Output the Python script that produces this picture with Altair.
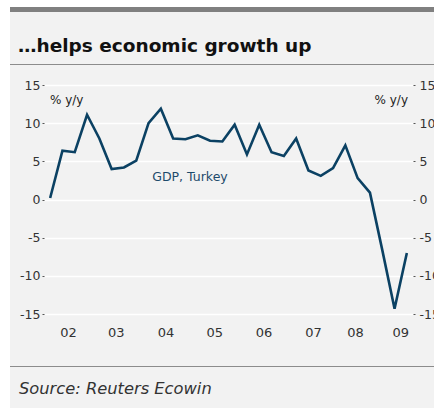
import altair as alt
import pandas as pd

# Quarterly GDP growth, Turkey, % y/y, 2002Q1 - 2009Q2
years = [2002]*4 + [2003]*4 + [2004]*4 + [2005]*4 + [2006]*4 + [2007]*4 + [2008]*4 + [2009]*2
quarters = [1, 2, 3, 4] * 7 + [1, 2]
gdp = [0.2, 6.4, 6.2, 11.1,
       8.0, 4.0, 4.2, 5.1,
       10.0, 11.9, 8.0, 7.9,
       8.4, 7.7, 7.6, 9.8,
       5.9, 9.8, 6.2, 5.7,
       8.0, 3.8, 3.1, 4.1,
       7.1, 2.8, 0.9, -6.6,
       -14.3, -7.0]

year_labels = ["02", "03", "04", "05", "06", "07", "08", "09"]
year_label_at = [2002.50, 2003.47, 2004.48, 2005.47, 2006.47, 2007.48, 2008.33, 2009.25]
year_ticks = [2002, 2003, 2004, 2005, 2006, 2007, 2008, 2009]
y_ticks = [-15, -10, -5, 0, 5, 10, 15]

df = pd.DataFrame({
    "t": [y + (q - 1) * 0.25 + 0.125 for y, q in zip(years, quarters)],
    "gdp": gdp,
})
lab_df = pd.DataFrame({"t": year_label_at, "lab": year_labels})

W, H = 369, 229
LINE = "#0b4163"
BG = "#f2f2f2"
TXT = "#333333"
HYPHEN = "replace(datum.label, '\u2212', '-')"

xscale = alt.Scale(domain=[2002, 2009.5], nice=False, zero=False)
yscale = alt.Scale(domain=[-15, 15], nice=False)

base = alt.Chart(df)

left_axis = base.mark_line(opacity=0).encode(
    x=alt.X("t:Q", scale=xscale,
            axis=alt.Axis(values=year_ticks, labels=False, title=None, domain=False,
                          grid=False, tickSize=3, tickColor="#777777", tickWidth=1, offset=3)),
    y=alt.Y("gdp:Q", scale=yscale,
            axis=alt.Axis(values=y_ticks, title=None, domain=False, grid=True,
                          gridColor="white", gridWidth=1.5, tickSize=2, tickColor="#555555",
                          labelPadding=2, labelFont="DejaVu Sans", labelFontSize=12.5,
                          labelColor=TXT, labelExpr=HYPHEN, orient="left")),
)
right_axis = base.mark_line(opacity=0).encode(
    x=alt.X("t:Q", scale=xscale, axis=None),
    y=alt.Y("gdp:Q", scale=yscale,
            axis=alt.Axis(values=y_ticks, title=None, domain=False, grid=False,
                          tickSize=2, tickColor="#555555", labelPadding=4,
                          labelFont="DejaVu Sans", labelFontSize=12.5, labelColor=TXT,
                          labelExpr=HYPHEN, orient="right")),
)

line = base.mark_line(color=LINE, strokeWidth=2.6, strokeJoin="miter").encode(
    x=alt.X("t:Q", scale=xscale, axis=None),
    y=alt.Y("gdp:Q", scale=yscale, axis=None),
)

xlabels = alt.Chart(lab_df).mark_text(font="DejaVu Sans", fontSize=13, color=TXT,
                                      baseline="middle", align="center").encode(
    x=alt.X("t:Q", scale=xscale, axis=None),
    y=alt.value(248),
    text="lab:N",
)

series_label = alt.Chart(pd.DataFrame({"t": [2004.2], "v": [2.4], "s": ["GDP, Turkey"]})).mark_text(
    font="DejaVu Sans", fontSize=12.5, color="#1d4a6b", align="left", baseline="alphabetic"
).encode(
    x=alt.X("t:Q", scale=xscale, axis=None),
    y=alt.Y("v:Q", scale=yscale, axis=None),
    text="s:N",
)

def deco_text(txt, x, y, **kw):
    return alt.Chart(pd.DataFrame({"s": [txt]})).mark_text(**kw).encode(
        x=alt.value(x), y=alt.value(y), text="s:N")

unit_left = deco_text("% y/y", 6, 19, font="DejaVu Sans", fontSize=12, color="#222222",
                      align="left", baseline="alphabetic")
unit_right = deco_text("% y/y", 364, 19, font="DejaVu Sans", fontSize=12, color="#222222",
                       align="right", baseline="alphabetic")
title = deco_text("\u2026helps economic growth up", -26, -33, font="DejaVu Sans", fontSize=18.5,
                  fontWeight="bold", color="#111111", align="left", baseline="alphabetic")
source = deco_text("Source: Reuters Ecowin", -25, 309, font="DejaVu Sans", fontSize=16.3,
                   fontStyle="italic", color=TXT, align="left", baseline="alphabetic")

def rect(x, x2, y, y2, color):
    return alt.Chart(pd.DataFrame({"a": [0]})).mark_rect(color=color).encode(
        x=alt.value(x), x2=alt.value(x2), y=alt.value(y), y2=alt.value(y2))

white_left = rect(-44, -34, -85, 323, "white")
white_top = rect(-44, 390, -85, -78, "white")
top_bar = rect(-34, 390, -78, -73, "#808080")
sep1 = rect(-34, 390, -21, -20, "#8c8c8c")
sep2 = rect(-34, 390, 281, 282, "#8c8c8c")

chart = alt.layer(
    white_left, white_top, top_bar, sep1, sep2,
    left_axis, right_axis, line, xlabels, series_label,
    unit_left, unit_right, title, source,
).resolve_axis(y="independent").properties(
    width=W, height=H,
    autosize=alt.AutoSizeParams(type="none"),
    padding={"left": 44, "top": 85, "right": 21, "bottom": 94},
    background=BG,
).configure_view(stroke=None)

chart.save("out.html", embed_options={"renderer": "svg", "actions": False})
